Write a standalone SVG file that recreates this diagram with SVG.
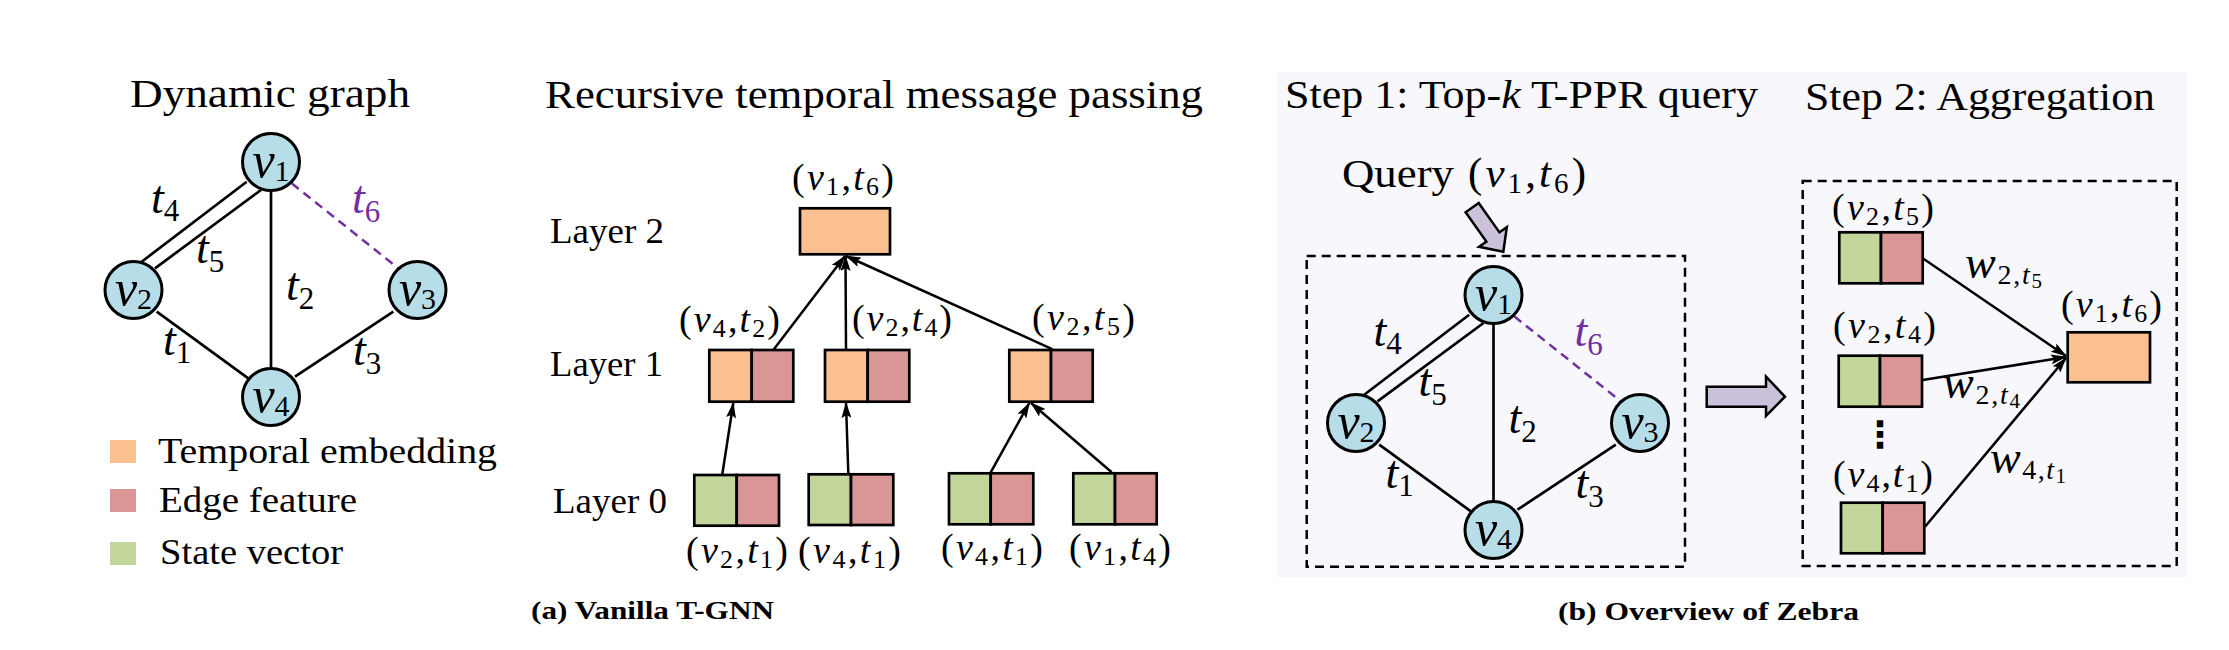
<svg xmlns="http://www.w3.org/2000/svg" width="2229" height="650" viewBox="0 0 2229 650">
<style>
.tx{font-family:"Liberation Serif",serif;fill:#000}
.ttl{font-size:41px}
.lg{font-size:36px}
.cap{font-size:26px;font-weight:bold}
.i{font-style:italic}
.ml{font-family:"Liberation Serif",serif;font-size:38px;fill:#000}
.s{font-size:26px}
.nl{font-family:"Liberation Serif",serif;font-size:50px;fill:#000}
.ns{font-size:30px}
.el{font-family:"Liberation Serif",serif;font-size:46px;fill:#000}
.es{font-size:31px}
.ed{stroke:#000;stroke-width:2.7;fill:none}
.pd{stroke:#7030A0;stroke-width:2.5;fill:none;stroke-dasharray:9 6}
.nd{fill:#B7DDE8;stroke:#000;stroke-width:3}
.bx{stroke:#000;stroke-width:2.7}
.or{fill:#FAC090}
.rd{fill:#D99694}
.gr{fill:#C3D69B}
.ar{stroke:#000;stroke-width:2.5;fill:none;marker-end:url(#ah)}
.db{fill:none;stroke:#000;stroke-width:2.5;stroke-dasharray:9 6}
.blk{fill:#CCC1DA;stroke:#000;stroke-width:2.5;stroke-linejoin:miter}
.ws{font-size:28px}
.wss{font-size:21px}
</style>
<defs>
<marker id="ah" viewBox="0 0 16 10" markerWidth="16" markerHeight="10" refX="15" refY="5" orient="auto" markerUnits="userSpaceOnUse">
<path d="M0,0 L16,5 L0,10 L3,5 z" fill="#000"/>
</marker>
</defs>
<rect width="2229" height="650" fill="#fff"/>
<rect id="panel-b" x="1277" y="72" width="910" height="505" fill="#F7F7FC"/>

<g id="titles">
<text class="tx ttl" x="130" y="107" textLength="280" lengthAdjust="spacingAndGlyphs">Dynamic graph</text>
<text class="tx ttl" x="545" y="108" textLength="658" lengthAdjust="spacingAndGlyphs">Recursive temporal message passing</text>
<text class="tx ttl" x="1285" y="108" textLength="473" lengthAdjust="spacingAndGlyphs">Step 1: Top-<tspan class="i">k</tspan> T-PPR query</text>
<text class="tx ttl" x="1805" y="110" textLength="350" lengthAdjust="spacingAndGlyphs">Step 2: Aggregation</text>
<text class="tx cap" x="531" y="619" textLength="243" lengthAdjust="spacingAndGlyphs">(a) Vanilla T-GNN</text>
<text class="tx cap" x="1558" y="620" textLength="301" lengthAdjust="spacingAndGlyphs">(b) Overview of Zebra</text>
</g>

<g id="legend">
<rect x="110" y="440" width="26" height="23" class="or"/>
<rect x="110" y="489" width="26" height="23" class="rd"/>
<rect x="110" y="542" width="26" height="23" class="gr"/>
<text class="tx lg" x="158" y="463" textLength="339" lengthAdjust="spacingAndGlyphs">Temporal embedding</text>
<text class="tx lg" x="159" y="512" textLength="198" lengthAdjust="spacingAndGlyphs">Edge feature</text>
<text class="tx lg" x="160" y="564" textLength="183" lengthAdjust="spacingAndGlyphs">State vector</text>
</g>

<g id="connectors">
<g id="edges-a">
<line class="ed" x1="246.7" y1="181.7" x2="141.7" y2="261.7"/>
<line class="ed" x1="261" y1="190" x2="155" y2="268.3"/>
<line class="ed" x1="271" y1="190" x2="271" y2="368"/>
<line class="ed" x1="156.7" y1="311.7" x2="248.3" y2="378.3"/>
<line class="ed" x1="393.3" y1="311.7" x2="295" y2="376.7"/>
<line class="pd" x1="291.7" y1="183.3" x2="398.3" y2="268.3"/>
</g>
<g id="edges-b" transform="translate(1222.5,133)">
<line class="ed" x1="246.7" y1="181.7" x2="141.7" y2="261.7"/>
<line class="ed" x1="261" y1="190" x2="155" y2="268.3"/>
<line class="ed" x1="271" y1="190" x2="271" y2="368"/>
<line class="ed" x1="156.7" y1="311.7" x2="248.3" y2="378.3"/>
<line class="ed" x1="393.3" y1="311.7" x2="295" y2="376.7"/>
<line class="pd" x1="291.7" y1="183.3" x2="398.3" y2="268.3"/>
</g>
<g id="arrows-layers">
<line class="ar" x1="773.3" y1="350" x2="845" y2="256"/>
<line class="ar" x1="846" y1="350" x2="845.5" y2="256"/>
<line class="ar" x1="1052.7" y1="349.3" x2="846" y2="256"/>
<line class="ar" x1="722.3" y1="474.3" x2="733.3" y2="403"/>
<line class="ar" x1="848.3" y1="473.3" x2="846" y2="403"/>
<line class="ar" x1="990.7" y1="472.3" x2="1029.3" y2="403"/>
<line class="ar" x1="1111.7" y1="472.3" x2="1031" y2="403"/>
</g>
<g id="arrows-agg">
<line class="ar" x1="1922.7" y1="258.3" x2="2066" y2="356"/>
<line class="ar" x1="1922.7" y1="380" x2="2066" y2="357"/>
<line class="ar" x1="1925" y1="526.7" x2="2066" y2="358"/>
</g>
<polygon id="query-arrow" class="blk" transform="translate(1503.3,251.7) rotate(54.8)" points="0,0 -18,-17 -18,-8 -54,-8 -54,8 -18,8 -18,17"/>
<polygon id="step-arrow" class="blk" points="1706.7,386.7 1766,386.7 1766,376.7 1785,396.7 1766,416 1766,406.7 1706.7,406.7"/>
</g>

<g id="graph-a">
<g id="a-v1"><circle class="nd" cx="271" cy="162" r="28.5"/><text class="nl" x="271" y="177" text-anchor="middle"><tspan class="i">v</tspan><tspan class="ns" dy="4">1</tspan></text></g>
<g id="a-v2"><circle class="nd" cx="133.5" cy="290" r="28.5"/><text class="nl" x="133.5" y="305" text-anchor="middle"><tspan class="i">v</tspan><tspan class="ns" dy="4">2</tspan></text></g>
<g id="a-v3"><circle class="nd" cx="417.5" cy="290" r="28.5"/><text class="nl" x="417.5" y="305" text-anchor="middle"><tspan class="i">v</tspan><tspan class="ns" dy="4">3</tspan></text></g>
<g id="a-v4"><circle class="nd" cx="271" cy="397" r="28.5"/><text class="nl" x="271" y="412" text-anchor="middle"><tspan class="i">v</tspan><tspan class="ns" dy="4">4</tspan></text></g>
<g id="a-labels">
<text class="el" x="151" y="213"><tspan class="i">t</tspan><tspan class="es" dy="8">4</tspan></text>
<text class="el" x="196" y="263"><tspan class="i">t</tspan><tspan class="es" dy="9">5</tspan></text>
<text class="el" x="286" y="300"><tspan class="i">t</tspan><tspan class="es" dy="9">2</tspan></text>
<text class="el" x="352" y="213" style="fill:#7030A0"><tspan class="i">t</tspan><tspan class="es" dy="9">6</tspan></text>
<text class="el" x="163" y="355"><tspan class="i">t</tspan><tspan class="es" dy="8">1</tspan></text>
<text class="el" x="353" y="365"><tspan class="i">t</tspan><tspan class="es" dy="9">3</tspan></text>
</g>
</g>

<g id="layer-labels">
<text class="tx lg" x="550" y="243" textLength="114" lengthAdjust="spacingAndGlyphs">Layer 2</text>
<text class="tx lg" x="550" y="376" textLength="113" lengthAdjust="spacingAndGlyphs">Layer 1</text>
<text class="tx lg" x="553" y="513" textLength="114" lengthAdjust="spacingAndGlyphs">Layer 0</text>
</g>
<g id="L2-v1t6">
<rect class="bx or" x="800" y="208.3" width="90" height="46"/>
<text class="ml" x="792" y="190" textLength="102" lengthAdjust="spacing">(<tspan class="i">v</tspan><tspan class="s" dy="5">1</tspan><tspan dy="-5">,</tspan><tspan class="i">t</tspan><tspan class="s" dy="5">6</tspan><tspan dy="-5">)</tspan></text>
</g>
<g id="L1-v4t2">
<rect class="bx or" x="709.3" y="350" width="42.4" height="51.7"/><rect class="bx rd" x="751.7" y="350" width="41.6" height="51.7"/>
<text class="ml" x="679" y="332" textLength="101" lengthAdjust="spacing">(<tspan class="i">v</tspan><tspan class="s" dy="5">4</tspan><tspan dy="-5">,</tspan><tspan class="i">t</tspan><tspan class="s" dy="5">2</tspan><tspan dy="-5">)</tspan></text>
</g>
<g id="L1-v2t4">
<rect class="bx or" x="825" y="350" width="42.7" height="51.7"/><rect class="bx rd" x="867.7" y="350" width="41.6" height="51.7"/>
<text class="ml" x="852" y="331" textLength="100" lengthAdjust="spacing">(<tspan class="i">v</tspan><tspan class="s" dy="5">2</tspan><tspan dy="-5">,</tspan><tspan class="i">t</tspan><tspan class="s" dy="5">4</tspan><tspan dy="-5">)</tspan></text>
</g>
<g id="L1-v2t5">
<rect class="bx or" x="1009.3" y="350" width="41.7" height="51.7"/><rect class="bx rd" x="1051" y="350" width="41.7" height="51.7"/>
<text class="ml" x="1032" y="330" textLength="103" lengthAdjust="spacing">(<tspan class="i">v</tspan><tspan class="s" dy="5">2</tspan><tspan dy="-5">,</tspan><tspan class="i">t</tspan><tspan class="s" dy="5">5</tspan><tspan dy="-5">)</tspan></text>
</g>
<g id="L0-v2t1">
<rect class="bx gr" x="694.3" y="475" width="42.4" height="50.7"/><rect class="bx rd" x="736.7" y="475" width="42.3" height="50.7"/>
<text class="ml" x="686" y="563" textLength="102" lengthAdjust="spacing">(<tspan class="i">v</tspan><tspan class="s" dy="5">2</tspan><tspan dy="-5">,</tspan><tspan class="i">t</tspan><tspan class="s" dy="5">1</tspan><tspan dy="-5">)</tspan></text>
</g>
<g id="L0-v4t1">
<rect class="bx gr" x="808.7" y="474.3" width="42.3" height="50.7"/><rect class="bx rd" x="851" y="474.3" width="42.3" height="50.7"/>
<text class="ml" x="798" y="563" textLength="103" lengthAdjust="spacing">(<tspan class="i">v</tspan><tspan class="s" dy="5">4</tspan><tspan dy="-5">,</tspan><tspan class="i">t</tspan><tspan class="s" dy="5">1</tspan><tspan dy="-5">)</tspan></text>
</g>
<g id="L0-v4t1-b">
<rect class="bx gr" x="949" y="473.3" width="41.7" height="51"/><rect class="bx rd" x="990.7" y="473.3" width="42.6" height="51"/>
<text class="ml" x="941" y="560" textLength="102" lengthAdjust="spacing">(<tspan class="i">v</tspan><tspan class="s" dy="5">4</tspan><tspan dy="-5">,</tspan><tspan class="i">t</tspan><tspan class="s" dy="5">1</tspan><tspan dy="-5">)</tspan></text>
</g>
<g id="L0-v1t4">
<rect class="bx gr" x="1073.3" y="473.3" width="41.7" height="51"/><rect class="bx rd" x="1115" y="473.3" width="41.7" height="51"/>
<text class="ml" x="1069" y="560" textLength="102" lengthAdjust="spacing">(<tspan class="i">v</tspan><tspan class="s" dy="5">1</tspan><tspan dy="-5">,</tspan><tspan class="i">t</tspan><tspan class="s" dy="5">4</tspan><tspan dy="-5">)</tspan></text>
</g>

<g id="query">
<text class="tx ttl" x="1342" y="187" textLength="112" lengthAdjust="spacingAndGlyphs">Query</text>
<text class="ml" x="1468" y="187" style="font-size:43px" textLength="118" lengthAdjust="spacing">(<tspan class="i">v</tspan><tspan style="font-size:29px" dy="6">1</tspan><tspan dy="-6">,</tspan><tspan class="i">t</tspan><tspan style="font-size:29px" dy="6">6</tspan><tspan dy="-6">)</tspan></text>
</g>
<rect id="box-step1" class="db" x="1306.7" y="256" width="378.3" height="310.7"/>
<g id="graph-b" transform="translate(1222.5,133)">
<g id="b-v1"><circle class="nd" cx="271" cy="162" r="28.5"/><text class="nl" x="271" y="177" text-anchor="middle"><tspan class="i">v</tspan><tspan class="ns" dy="4">1</tspan></text></g>
<g id="b-v2"><circle class="nd" cx="133.5" cy="290" r="28.5"/><text class="nl" x="133.5" y="305" text-anchor="middle"><tspan class="i">v</tspan><tspan class="ns" dy="4">2</tspan></text></g>
<g id="b-v3"><circle class="nd" cx="417.5" cy="290" r="28.5"/><text class="nl" x="417.5" y="305" text-anchor="middle"><tspan class="i">v</tspan><tspan class="ns" dy="4">3</tspan></text></g>
<g id="b-v4"><circle class="nd" cx="271" cy="397" r="28.5"/><text class="nl" x="271" y="412" text-anchor="middle"><tspan class="i">v</tspan><tspan class="ns" dy="4">4</tspan></text></g>
<g id="b-labels">
<text class="el" x="151" y="213"><tspan class="i">t</tspan><tspan class="es" dy="8">4</tspan></text>
<text class="el" x="196" y="263"><tspan class="i">t</tspan><tspan class="es" dy="9">5</tspan></text>
<text class="el" x="286" y="300"><tspan class="i">t</tspan><tspan class="es" dy="9">2</tspan></text>
<text class="el" x="352" y="213" style="fill:#7030A0"><tspan class="i">t</tspan><tspan class="es" dy="9">6</tspan></text>
<text class="el" x="163" y="355"><tspan class="i">t</tspan><tspan class="es" dy="8">1</tspan></text>
<text class="el" x="353" y="365"><tspan class="i">t</tspan><tspan class="es" dy="9">3</tspan></text>
</g>
</g>

<rect id="box-step2" class="db" x="1802.7" y="181" width="374" height="385"/>
<g id="S2-v2t5">
<rect class="bx gr" x="1839.3" y="232.3" width="41.7" height="51"/><rect class="bx rd" x="1881" y="232.3" width="41.7" height="51"/>
<text class="ml" x="1832" y="220" textLength="102" lengthAdjust="spacing">(<tspan class="i">v</tspan><tspan class="s" dy="5">2</tspan><tspan dy="-5">,</tspan><tspan class="i">t</tspan><tspan class="s" dy="5">5</tspan><tspan dy="-5">)</tspan></text>
</g>
<g id="S2-v2t4">
<rect class="bx gr" x="1838.7" y="355.7" width="41.3" height="51"/><rect class="bx rd" x="1880" y="355.7" width="42" height="51"/>
<text class="ml" x="1833" y="338" textLength="103" lengthAdjust="spacing">(<tspan class="i">v</tspan><tspan class="s" dy="5">2</tspan><tspan dy="-5">,</tspan><tspan class="i">t</tspan><tspan class="s" dy="5">4</tspan><tspan dy="-5">)</tspan></text>
</g>
<text id="vdots" x="1880" y="447" text-anchor="middle" style="font-family:'DejaVu Sans',sans-serif;font-size:36px;font-weight:bold;fill:#000">⋮</text>
<g id="S2-v4t1">
<rect class="bx gr" x="1841" y="502.7" width="41.7" height="50.6"/><rect class="bx rd" x="1882.7" y="502.7" width="41.6" height="50.6"/>
<text class="ml" x="1833" y="487" textLength="100" lengthAdjust="spacing">(<tspan class="i">v</tspan><tspan class="s" dy="5">4</tspan><tspan dy="-5">,</tspan><tspan class="i">t</tspan><tspan class="s" dy="5">1</tspan><tspan dy="-5">)</tspan></text>
</g>
<g id="S2-v1t6">
<rect class="bx or" x="2067.7" y="332.3" width="82.3" height="50"/>
<text class="ml" x="2061" y="317" textLength="101" lengthAdjust="spacing">(<tspan class="i">v</tspan><tspan class="s" dy="5">1</tspan><tspan dy="-5">,</tspan><tspan class="i">t</tspan><tspan class="s" dy="5">6</tspan><tspan dy="-5">)</tspan></text>
</g>
<g id="weights">
<text class="el" x="1965" y="278" textLength="77" lengthAdjust="spacing"><tspan class="i">w</tspan><tspan class="ws" dy="6">2,</tspan><tspan class="ws i">t</tspan><tspan class="wss" dy="4">5</tspan></text>
<text class="el" x="1943" y="398" textLength="77" lengthAdjust="spacing"><tspan class="i">w</tspan><tspan class="ws" dy="6">2,</tspan><tspan class="ws i">t</tspan><tspan class="wss" dy="4">4</tspan></text>
<text class="el" x="1990" y="473" textLength="76" lengthAdjust="spacing"><tspan class="i">w</tspan><tspan class="ws" dy="6">4,</tspan><tspan class="ws i">t</tspan><tspan class="wss" dy="4">1</tspan></text>
</g>
</svg>
